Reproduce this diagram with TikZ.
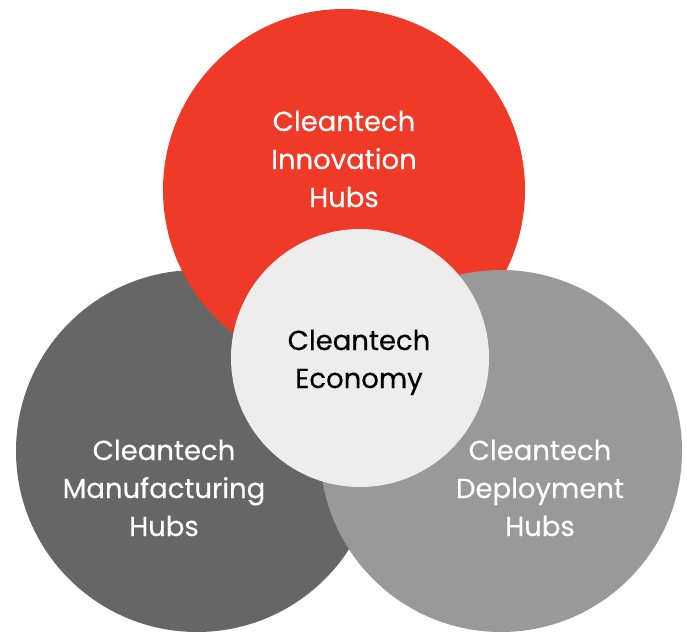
\documentclass[tikz,border=0pt]{standalone}
\usepackage{fontspec}
\setmainfont{Poppins}
\newfontfamily\hubfont{Poppins}[UprightFeatures={FakeBold=0.4}]
\definecolor{hubred}{HTML}{EE3A26}
\definecolor{hubdark}{HTML}{666666}
\definecolor{hublight}{HTML}{999999}
\definecolor{hubcore}{HTML}{EDEDED}
\begin{document}
\begin{tikzpicture}[x=1pt,y=-1pt,
  hub/.style={circle,inner sep=0pt,minimum size=362pt},
  core/.style={circle,inner sep=0pt,minimum size=258pt,fill=hubcore},
  lbl/.style={anchor=base,inner sep=0pt,font=\hubfont\fontsize{27.5}{38}\selectfont,text=white},
  corelbl/.style={anchor=base,inner sep=0pt,font=\hubfont\fontsize{27.5}{38}\selectfont,text=black}]
\useasboundingbox (0,0) rectangle (687,631);
\node[hub,fill=hubdark] (manu) at (197,451) {};
\node[hub,fill=hubred] (inno) at (344,190) {};
\node[hub,fill=hublight] (depl) at (501,451) {};
\node[core] (econ) at (360,358) {};
% labels
\node[lbl] (inno1) at (344,131) {Cleantech};
\node[lbl] (inno2) at (344,169) {Innovation};
\node[lbl] (inno3) at (344,207) {Hubs};
\node[corelbl] (econ1) at (359,350) {Cleantech};
\node[corelbl] (econ2) at (359,388) {Economy};
\node[lbl] (manu1) at (164,460) {Cleantech};
\node[lbl] (manu2) at (164,498) {Manufacturing};
\node[lbl] (manu3) at (164,536) {Hubs};
\node[lbl] (depl1) at (540,460) {Cleantech};
\node[lbl] (depl2) at (540,498) {Deployment};
\node[lbl] (depl3) at (540,536) {Hubs};
\end{tikzpicture}
\end{document}
